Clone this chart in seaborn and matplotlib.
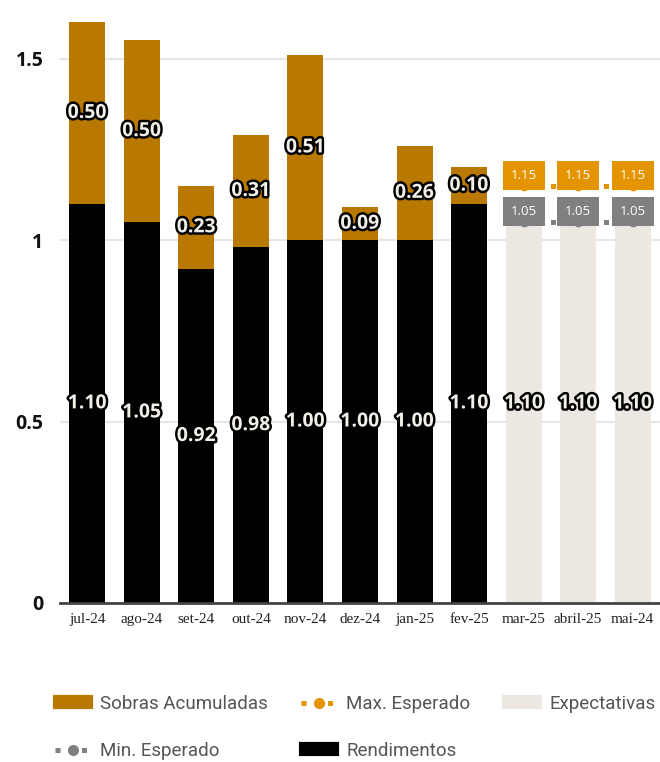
import matplotlib
matplotlib.use("Agg")
import matplotlib.pyplot as plt
import matplotlib.patheffects as pe
from matplotlib.lines import Line2D
from matplotlib.patches import Patch
import seaborn as sns
import pandas as pd
import numpy as np

# ---------------- data ----------------
categories = ["jul-24", "ago-24", "set-24", "out-24", "nov-24", "dez-24",
              "jan-25", "fev-25", "mar-25", "abril-25", "mai-24"]
rendimentos = [1.10, 1.05, 0.92, 0.98, 1.00, 1.00, 1.00, 1.10, np.nan, np.nan, np.nan]
sobras = [0.50, 0.50, 0.23, 0.31, 0.51, 0.09, 0.26, 0.10, np.nan, np.nan, np.nan]
expectativas = [np.nan] * 8 + [1.10, 1.10, 1.10]
max_esperado = [np.nan] * 8 + [1.15, 1.15, 1.15]
min_esperado = [np.nan] * 8 + [1.05, 1.05, 1.05]
yticks = [0, 0.5, 1, 1.5]
ytick_labels = ["0", "0.5", "1", "1.5"]

# ---------------- style ----------------
C_SOBRAS = "#B97900"
C_MAX = "#E39400"
C_MIN = "#808080"
C_EXP = "#ECE8E1"
C_REND = "#000000"
C_LABEL = "#F2EFE9"

sns.set_style("white")
plt.rcParams["font.family"] = ["Open Sans", "DejaVu Sans"]

df = pd.DataFrame({
    "cat": categories,
    "rend": rendimentos,
    "sobras": sobras,
    "exp": expectativas,
    "max": max_esperado,
    "min": min_esperado,
})
df["pos"] = np.arange(len(df))
df["total"] = df["rend"] + df["sobras"]
past = df.dropna(subset=["rend"])
fut = df.dropna(subset=["exp"])

fig = plt.figure(figsize=(6.6, 7.62), dpi=100)
ymax = 1.65
ax = fig.add_axes([60 / 660, 159 / 762, 600 / 660, ymax * 363 / 762])

bw = 0.66
bar_kw = dict(order=categories, saturation=1, width=bw, errorbar=None, ax=ax,
              zorder=2, linewidth=0, edgecolor="none")
sns.barplot(data=past, x="cat", y="total", color=C_SOBRAS, **bar_kw)
sns.barplot(data=past, x="cat", y="rend", color=C_REND, **bar_kw)
sns.barplot(data=fut, x="cat", y="exp", color=C_EXP, **bar_kw)

# expected max / min lines
for col, c in (("max", C_MAX), ("min", C_MIN)):
    sns.lineplot(x=fut["pos"].values, y=fut[col].values, color=c, linestyle=":",
                 linewidth=3.6, marker="o", markersize=7, markeredgewidth=0,
                 ax=ax, zorder=4, legend=False)
    for p, v in zip(fut["pos"], fut[col]):
        ax.annotate(f"{v:.2f}", (p, v), xytext=(0, 7.5), textcoords="offset points",
                    ha="center", va="center", fontsize=9.5, color="white",
                    zorder=6,
                    bbox=dict(boxstyle="square,pad=0.6", fc=c, ec="none"))

# bar labels
stroke = [pe.withStroke(linewidth=3.5, foreground="black")]
lab_kw = dict(ha="center", va="center", fontsize=14, fontweight="bold",
              color=C_LABEL, path_effects=stroke, zorder=5)
for _, r in past.iterrows():
    ax.text(r["pos"], r["rend"] / 2, f"{r['rend']:.2f}", **lab_kw)
    ax.text(r["pos"], r["rend"] + r["sobras"] / 2, f"{r['sobras']:.2f}", **lab_kw)
for _, r in fut.iterrows():
    ax.text(r["pos"], r["exp"] / 2, f"{r['exp']:.2f}", **lab_kw)

# axes
ax.set_xlim(-0.5, len(categories) - 0.5)
ax.set_ylim(0, ymax)
ax.set_yticks(yticks)
ax.set_yticklabels(ytick_labels, fontsize=14, fontweight="bold", color="#111111")
ax.set_xticks(np.arange(len(categories)))
ax.set_xticklabels(categories, fontsize=11, family="Liberation Serif", color="#222222")
ax.tick_params(axis="y", length=0, pad=12)
ax.tick_params(axis="x", length=0, pad=7)
ax.set_xlabel("")
ax.set_ylabel("")
ax.yaxis.grid(True, color="#E6E6E6", linewidth=1.5)
ax.xaxis.grid(False)
ax.set_axisbelow(True)
for s in ("left", "right", "top"):
    ax.spines[s].set_visible(False)
ax.spines["bottom"].set_color("#444444")
ax.spines["bottom"].set_linewidth(2)
ax.spines["bottom"].set_zorder(3)

# legend
h_sob = Patch(fc=C_SOBRAS, ec=C_SOBRAS, lw=3, joinstyle="round")
h_rend = Patch(fc=C_REND, ec=C_REND, lw=3, joinstyle="round")
h_exp = Patch(fc=C_EXP, ec=C_EXP, lw=3, joinstyle="round")
h_max = Line2D([], [], color=C_MAX, linestyle=":", lw=3.6, marker="o", markersize=8, markeredgewidth=0)
h_min = Line2D([], [], color=C_MIN, linestyle=":", lw=3.6, marker="o", markersize=8, markeredgewidth=0)
handles = [h_sob, h_min, h_max, h_rend, h_exp]
labels = ["Sobras Acumuladas", "Min. Esperado", "Max. Esperado", "Rendimentos", "Expectativas"]
leg = fig.legend(handles, labels, loc="upper left", bbox_to_anchor=(38 / 660, 1 - 678 / 762),
                 ncol=3, frameon=False, labelspacing=1.55,
                 handlelength=1.9, handleheight=0.45, handletextpad=0.5,
                 columnspacing=1.8, prop={"family": "Roboto", "size": 13.5})
for t in leg.get_texts():
    t.set_color("#555555")

fig.savefig("out.png", dpi=100)
